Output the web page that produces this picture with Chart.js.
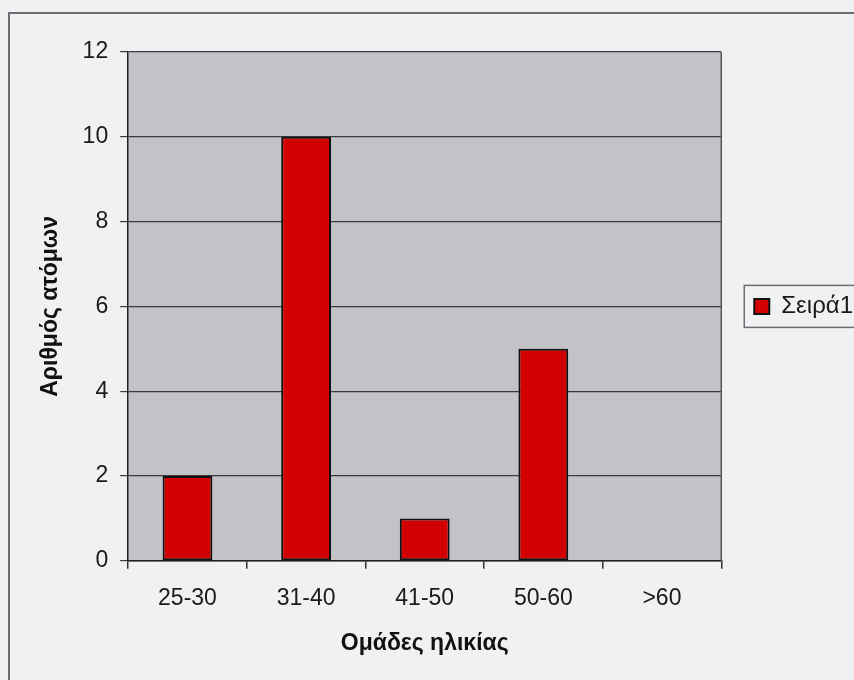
<!DOCTYPE html>
<html>
<head>
<meta charset="utf-8">
<script src="https://cdn.jsdelivr.net/npm/chart.js@4"></script>
<style>
  html, body { margin: 0; padding: 0; background: #eff1f3; }
  #wrap { width: 854px; height: 680px; }
</style>
</head>
<body>
<div id="wrap"><canvas id="c" width="854" height="680"></canvas></div>
<script>
// Age groups and number of people per group
const ageGroups = ['25-30', '31-40', '41-50', '50-60', '>60'];
const peopleCounts = [2, 10, 1, 5, 0];
const seriesName = 'Σειρά1';
const xTitle = 'Ομάδες ηλικίας';
const yTitle = 'Αριθμός ατόμων';
const yMin = 0, yMax = 12, yStep = 2;

const FONT = "'Liberation Sans', Arial, sans-serif";

// Page frame, grey plot background and the plot's right edge
const framePlugin = {
  id: 'frame',
  beforeDraw(chart) {
    const { ctx, chartArea: a } = chart;
    ctx.save();
    ctx.fillStyle = '#eff1f3';
    ctx.fillRect(0, 0, chart.width, chart.height);
    ctx.strokeStyle = '#6b6d70';
    ctx.lineWidth = 2;
    ctx.strokeRect(9, 13, chart.width + 20, chart.height + 20);
    ctx.fillStyle = '#c2c3c6';
    ctx.fillRect(a.left, a.top, a.right - a.left, a.bottom - a.top);
    ctx.restore();
  },
  afterDraw(chart) {
    const { ctx, chartArea: a } = chart;
    ctx.save();
    ctx.strokeStyle = '#55575a';
    ctx.lineWidth = 1.5;
    ctx.beginPath();
    ctx.moveTo(a.right, a.top);
    ctx.lineTo(a.right, a.bottom);
    ctx.stroke();
    // border round the legend
    const lg = chart.legend;
    if (lg && lg.legendHitBoxes && lg.legendHitBoxes.length) {
      const hb = lg.legendHitBoxes[0];
      ctx.strokeStyle = '#6b6d70';
      ctx.lineWidth = 1.5;
      ctx.strokeRect(hb.left - 10, hb.top - 9, chart.width, hb.height + 18);
    }
    ctx.restore();
  }
};

new Chart(document.getElementById('c'), {
  type: 'bar',
  data: {
    labels: ageGroups,
    datasets: [{
      label: seriesName,
      data: peopleCounts,
      backgroundColor: '#d20000',
      borderColor: '#111111',
      borderWidth: 2,
      borderSkipped: false,
      categoryPercentage: 0.84,
      barPercentage: 0.5
    }]
  },
  options: {
    responsive: false,
    animation: false,
    devicePixelRatio: 1,
    layout: { padding: { left: 37, top: 52, right: -9, bottom: 19 } },
    plugins: {
      tooltip: { enabled: false },
      legend: {
        position: 'right',
        fullSize: false,
        labels: {
          boxWidth: 15,
          boxHeight: 15,
          padding: 33,
          color: '#1a1a1a',
          font: { family: FONT, size: 24 }
        }
      }
    },
    scales: {
      x: {
        offset: true,
        grid: {
          offset: true,
          drawOnChartArea: false,
          drawTicks: true,
          tickLength: 8,
          color: '#333333',
          lineWidth: 1.5
        },
        border: { color: '#222222', width: 1.5 },
        ticks: {
          color: '#1a1a1a',
          padding: 16,
          font: { family: FONT, size: 23 }
        },
        title: {
          display: true,
          text: xTitle,
          color: '#111111',
          font: { family: FONT, size: 23, weight: 'bold' },
          padding: { top: 1, bottom: 4 }
        }
      },
      y: {
        min: yMin,
        max: yMax,
        grid: {
          color: '#3a3a3c',
          lineWidth: 1.2,
          tickLength: 8
        },
        border: { color: '#222222', width: 1.5 },
        ticks: {
          stepSize: yStep,
          color: '#1a1a1a',
          padding: 12,
          font: { family: FONT, size: 23 }
        },
        title: {
          display: true,
          text: yTitle,
          color: '#111111',
          font: { family: FONT, size: 23, weight: 'bold' },
          padding: { top: 0, bottom: 6 }
        }
      }
    }
  },
  plugins: [framePlugin]
});
</script>
</body>
</html>
